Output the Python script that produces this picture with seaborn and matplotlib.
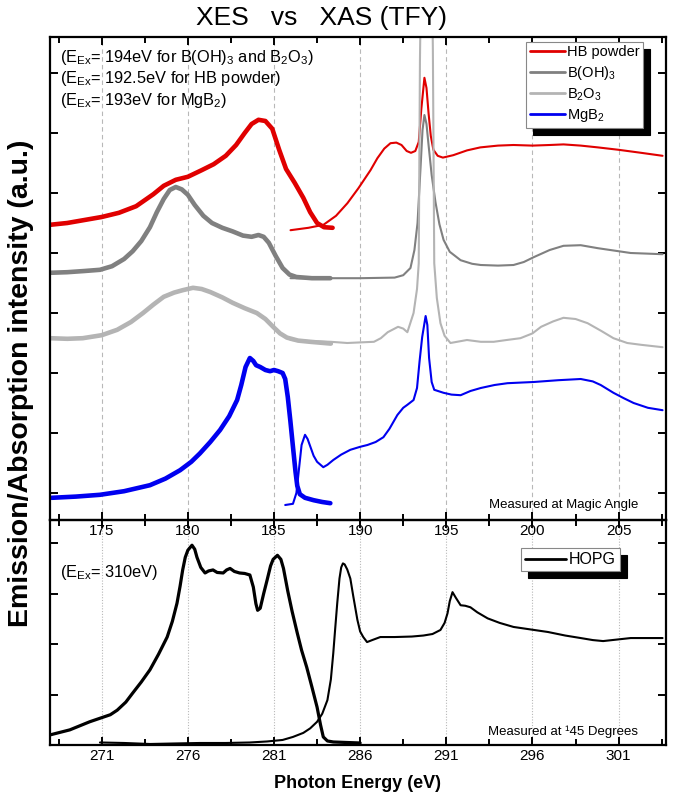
import matplotlib
matplotlib.use("Agg")
import matplotlib.pyplot as plt
import seaborn as sns
import pandas as pd
from matplotlib.lines import Line2D
from matplotlib.ticker import MultipleLocator

# ---------------- B K-edge, upper panel (offset intensities, a.u.) ----------------
hb_xes_e = [172.0, 173.0, 174.0, 175.0, 176.0, 177.0, 178.0, 178.6, 179.3, 180.0,
            180.8, 181.5, 182.2, 182.8, 183.3, 183.7, 184.1, 184.5, 184.9, 185.3,
            185.7, 186.2, 186.7, 187.1, 187.5, 187.9, 188.4]
hb_xes_i = [4.47, 4.50, 4.55, 4.60, 4.67, 4.78, 4.98, 5.12, 5.22, 5.27,
            5.38, 5.48, 5.62, 5.80, 6.00, 6.15, 6.22, 6.20, 6.07, 5.72,
            5.40, 5.17, 4.92, 4.68, 4.50, 4.43, 4.42]
hb_xas_e = [185.96, 187.0, 187.87, 188.6, 189.26, 189.9, 190.6, 191.0, 191.4, 191.76,
            192.1, 192.4, 192.7, 192.95, 193.2, 193.4, 193.55, 193.73, 193.85, 193.97,
            194.1, 194.25, 194.5, 194.8, 195.4, 196.2, 196.97, 198.0, 198.9, 200.0,
            201.0, 201.8, 202.8, 203.8, 205.0, 206.3, 207.55]
hb_xas_i = [4.38, 4.42, 4.47, 4.62, 4.83, 5.08, 5.38, 5.58, 5.74, 5.83,
            5.84, 5.80, 5.70, 5.67, 5.70, 5.85, 6.40, 6.92, 6.75, 6.33,
            5.95, 5.72, 5.62, 5.59, 5.63, 5.71, 5.76, 5.79, 5.80, 5.79,
            5.80, 5.81, 5.79, 5.76, 5.72, 5.67, 5.62]

boh_xes_e = [172.0, 173.0, 174.0, 174.9, 175.6, 176.3, 176.8, 177.3, 177.8, 178.2,
             178.6, 178.95, 179.3, 179.65, 180.0, 180.4, 180.9, 181.4, 182.0, 182.6,
             183.2, 183.7, 184.1, 184.4, 184.7, 185.1, 185.5, 185.9, 186.3, 187.2, 188.27]
boh_xes_i = [3.67, 3.68, 3.70, 3.72, 3.78, 3.90, 4.03, 4.20, 4.43, 4.68,
             4.90, 5.05, 5.10, 5.06, 4.97, 4.80, 4.62, 4.50, 4.42, 4.36,
             4.29, 4.27, 4.30, 4.27, 4.17, 3.95, 3.75, 3.64, 3.60, 3.58, 3.58]
boh_xas_e = [185.96, 188.3, 190.0, 192.0, 192.5, 192.92, 193.15, 193.33, 193.5, 193.62,
             193.73, 193.85, 193.97, 194.15, 194.37, 194.6, 194.84, 195.2, 195.83, 196.5,
             197.0, 198.0, 198.9, 199.5, 200.07, 201.0, 201.8, 202.8, 203.8, 205.7, 207.55]
boh_xas_i = [3.58, 3.58, 3.58, 3.59, 3.63, 3.75, 4.05, 4.50, 5.40, 6.05,
             6.30, 6.15, 5.80, 5.30, 4.85, 4.48, 4.22, 4.02, 3.88, 3.82,
             3.80, 3.79, 3.80, 3.85, 3.93, 4.05, 4.12, 4.13, 4.08, 4.00, 3.98]

b2o3_xes_e = [172.0, 173.0, 173.9, 175.0, 175.9, 176.7, 177.4, 178.0, 178.6, 179.2,
              179.7, 180.3, 180.8, 181.3, 182.0, 182.6, 183.3, 184.0, 184.5, 184.95,
              185.35, 185.75, 186.4, 187.1, 188.3]
b2o3_xes_i = [2.58, 2.57, 2.58, 2.63, 2.72, 2.85, 3.00, 3.14, 3.27, 3.34,
              3.38, 3.42, 3.40, 3.35, 3.26, 3.17, 3.08, 3.00, 2.90, 2.77,
              2.66, 2.59, 2.54, 2.52, 2.49]
b2o3_xas_e = [185.96, 187.2, 188.3, 189.25, 190.0, 190.8, 191.2, 191.6, 192.2, 192.5,
              192.74, 193.1, 193.3, 193.4, 193.47, 193.55, 193.8, 194.15, 194.22, 194.3,
              194.45, 194.66, 194.9, 195.24, 196.2, 197.0, 197.75, 198.5, 199.3, 200.0,
              200.5, 201.2, 201.8, 202.5, 203.2, 204.0, 204.7, 205.5, 206.3, 207.55]
b2o3_xas_i = [2.55, 2.53, 2.52, 2.50, 2.51, 2.52, 2.58, 2.68, 2.77, 2.74,
              2.68, 3.00, 3.40, 3.83, 7.2, 9.0, 10.5, 9.0, 7.4, 3.83,
              3.25, 2.83, 2.62, 2.50, 2.55, 2.52, 2.52, 2.55, 2.58, 2.66,
              2.77, 2.86, 2.92, 2.90, 2.83, 2.70, 2.58, 2.50, 2.47, 2.43]

mgb2_xes_e = [172.1, 173.5, 174.9, 176.3, 177.8, 178.7, 179.55, 180.2, 180.7, 181.3,
              181.87, 182.4, 182.86, 183.1, 183.35, 183.6, 183.8, 183.96, 184.2, 184.5,
              184.77, 185.0, 185.24, 185.5, 185.65, 185.8, 185.95, 186.1, 186.25, 186.35,
              186.5, 186.8, 187.3, 187.8, 188.27]
mgb2_xes_i = [-0.08, -0.06, -0.03, 0.03, 0.13, 0.24, 0.38, 0.52, 0.66, 0.85,
              1.05, 1.28, 1.55, 1.80, 2.10, 2.25, 2.20, 2.13, 2.10, 2.05,
              2.03, 2.05, 2.03, 2.00, 1.90, 1.60, 1.20, 0.77, 0.35, 0.12,
              -0.02, -0.08, -0.12, -0.15, -0.17]
mgb2_xas_e = [185.65, 186.1, 186.3, 186.45, 186.6, 186.8, 186.95, 187.1, 187.3, 187.5,
              187.86, 188.1, 188.44, 188.9, 189.43, 190.0, 190.42, 190.9, 191.35, 191.7,
              192.16, 192.5, 192.74, 193.1, 193.3, 193.45, 193.6, 193.8, 193.9, 194.0,
              194.15, 194.3, 194.84, 195.3, 195.83, 196.4, 197.0, 197.8, 198.55, 199.3,
              200.07, 201.5, 202.8, 203.5, 203.96, 204.7, 205.3, 205.87, 206.7, 207.55]
mgb2_xas_i = [-0.20, -0.18, 0.00, 0.40, 0.80, 0.97, 0.90, 0.78, 0.62, 0.52,
              0.43, 0.47, 0.55, 0.64, 0.72, 0.77, 0.80, 0.85, 0.93, 1.07,
              1.30, 1.42, 1.47, 1.55, 1.75, 2.20, 2.60, 2.95, 2.80, 2.25,
              1.85, 1.72, 1.67, 1.64, 1.63, 1.70, 1.75, 1.80, 1.83, 1.84,
              1.85, 1.88, 1.90, 1.86, 1.80, 1.67, 1.58, 1.50, 1.42, 1.38]

# ---------------- C K-edge, HOPG (lower panel) ----------------
hopg_xes_e = [268.0, 269.15, 270.3, 271.07, 271.5, 271.9, 272.4, 272.8, 273.3, 273.8,
              274.3, 274.8, 275.1, 275.37, 275.55, 275.7, 275.85, 276.0, 276.24, 276.4,
              276.53, 276.75, 277.0, 277.2, 277.46, 277.7, 278.05, 278.25, 278.45, 278.7,
              279.0, 279.3, 279.6, 279.8, 279.95, 280.05, 280.2, 280.4, 280.6, 280.8,
              280.95, 281.2, 281.4, 281.55, 281.8, 282.05, 282.35, 282.6, 282.9, 283.2,
              283.5, 283.7, 283.86, 284.1, 284.44, 285.2, 286.0]
hopg_xes_i = [0.20, 0.30, 0.46, 0.55, 0.60, 0.69, 0.85, 1.03, 1.25, 1.49,
              1.80, 2.14, 2.45, 2.81, 3.15, 3.47, 3.72, 3.86, 3.96, 3.88,
              3.72, 3.52, 3.41, 3.45, 3.47, 3.42, 3.41, 3.47, 3.50, 3.44,
              3.41, 3.40, 3.37, 3.13, 2.80, 2.67, 2.71, 3.00, 3.27, 3.55,
              3.68, 3.76, 3.68, 3.50, 3.05, 2.65, 2.22, 1.88, 1.54, 1.15,
              0.75, 0.40, 0.16, 0.08, 0.06, 0.05, 0.04]
hopg_xas_e = [270.9, 272.3, 273.8, 275.2, 276.7, 278.2, 279.6, 280.6, 281.5, 282.1,
              282.7, 283.1, 283.5, 283.8, 284.1, 284.3, 284.44, 284.55, 284.67, 284.8,
              284.9, 285.0, 285.1, 285.25, 285.43, 285.6, 285.84, 286.0, 286.18, 286.4,
              286.7, 287.17, 288.0, 289.0, 289.67, 290.2, 290.66, 290.9, 291.07, 291.2,
              291.36, 291.55, 291.83, 292.1, 292.4, 292.8, 293.4, 294.1, 294.9, 295.9,
              296.9, 297.9, 298.8, 299.5, 300.1, 300.9, 301.7, 303.55]
hopg_xas_i = [0.05, 0.04, 0.02, 0.03, 0.04, 0.04, 0.05, 0.07, 0.10, 0.16,
              0.24, 0.33, 0.46, 0.62, 0.89, 1.30, 1.82, 2.30, 2.81, 3.30,
              3.52, 3.60, 3.58, 3.48, 3.30, 2.95, 2.48, 2.25, 2.14, 2.04,
              2.08, 2.14, 2.14, 2.15, 2.17, 2.20, 2.28, 2.42, 2.61, 2.85,
              3.03, 2.92, 2.77, 2.76, 2.73, 2.63, 2.51, 2.42, 2.34, 2.29,
              2.24, 2.17, 2.12, 2.08, 2.06, 2.09, 2.12, 2.12]

top_series = ["HB powder", "B(OH)$_\\mathregular{3}$",
              "B$_\\mathregular{2}$O$_\\mathregular{3}$", "MgB$_\\mathregular{2}$"]
top_colors = ["#e00000", "#808080", "#b4b4b4", "#0000f0"]

sns.set_theme(style="ticks")
plt.rcParams["font.family"] = ["Liberation Sans", "DejaVu Sans"]
plt.rcParams["mathtext.fontset"] = "custom"
plt.rcParams["mathtext.rm"] = "Liberation Sans"
plt.rcParams["mathtext.it"] = "Liberation Sans:italic"
plt.rcParams["mathtext.bf"] = "Liberation Sans:bold"
for key in ("text.color", "axes.labelcolor", "xtick.color", "ytick.color",
            "xtick.labelcolor", "ytick.labelcolor"):
    plt.rcParams[key] = "black"

fig = plt.figure(figsize=(6.74, 7.99), dpi=100)
W, H = 674.0, 799.0
ax1 = fig.add_axes([50 / W, 1 - 520 / H, 616 / W, 483 / H])
ax2 = fig.add_axes([50 / W, 1 - 745 / H, 616 / W, 225 / H])
ax1.set_zorder(3)
ax1.patch.set_alpha(0)


def curve(ax, e, i, color, lw):
    df = pd.DataFrame({"E": e, "I": i})
    sns.lineplot(data=df, x="E", y="I", color=color, lw=lw, sort=False,
                 estimator=None, ax=ax, legend=False,
                 solid_joinstyle="round", solid_capstyle="round")


xes_sets = [(hb_xes_e, hb_xes_i), (boh_xes_e, boh_xes_i),
            (b2o3_xes_e, b2o3_xes_i), (mgb2_xes_e, mgb2_xes_i)]
xas_sets = [(hb_xas_e, hb_xas_i), (boh_xas_e, boh_xas_i),
            (b2o3_xas_e, b2o3_xas_i), (mgb2_xas_e, mgb2_xas_i)]

for (e, i), c in zip(xes_sets, top_colors):
    curve(ax1, e, i, c, 3.3)
for (e, i), c in zip(xas_sets, top_colors):
    curve(ax1, e, i, c, 1.5)

curve(ax2, hopg_xes_e, hopg_xes_i, "black", 2.3)
curve(ax2, hopg_xas_e, hopg_xas_i, "black", 1.5)

# axes ranges and ticks
ax1.set_xlim(172.0, 207.75)
ax1.set_ylim(-0.45, 7.6)
ax2.set_xlim(268.0, 303.75)
ax2.set_ylim(0.0, 4.46)

for ax in (ax1, ax2):
    ax.xaxis.set_major_locator(MultipleLocator(5))
    ax.xaxis.set_minor_locator(MultipleLocator(2.5))
    ax.yaxis.set_major_locator(MultipleLocator(1))
    ax.set_xlabel("")
    ax.set_ylabel("")
    for s in ax.spines.values():
        s.set_visible(True)
        s.set_linewidth(1.6)
        s.set_color("black")
    ax.tick_params(which="both", direction="in", top=True, bottom=True,
                   left=True, right=True, width=1.4, color="black",
                   labelleft=False, labelsize=11, pad=3, labelcolor="black")
    ax.tick_params(which="major", length=6)
    ax.tick_params(which="minor", length=4)

ax2.xaxis.set_major_locator(MultipleLocator(5, offset=1))
ax2.xaxis.set_minor_locator(MultipleLocator(2.5, offset=1))
ax1.tick_params(labeltop=False, labelbottom=True)
ax2.tick_params(labeltop=False, labelbottom=True)
ax1.set_yticklabels([])
ax2.set_yticklabels([])

ax1.grid(axis="x", which="major", color="#b8b8b8", lw=0.8, ls=(0, (4, 3)))
ax2.grid(axis="x", which="major", color="#b8b8b8", lw=0.8, ls=(0, (1, 1.5)))
ax1.set_axisbelow(True)
ax2.set_axisbelow(True)

# legends with drop shadows
shadow = {"ox": 5, "oy": -5, "facecolor": "black", "edgecolor": "black", "alpha": 1}
h1 = [Line2D([], [], color=c, lw=2.0) for c in top_colors]
leg1 = ax1.legend(h1, top_series, loc="upper right", bbox_to_anchor=(0.963, 0.99),
                  borderaxespad=0, fontsize=10.5, handlelength=2.4, handletextpad=0.15,
                  labelspacing=0.3, borderpad=0.25, fancybox=False, framealpha=1,
                  edgecolor="#888888", shadow=shadow)
leg1.get_frame().set_linewidth(0.8)

h2 = [Line2D([], [], color="black", lw=2.0)]
leg2 = ax2.legend(h2, ["HOPG"], loc="upper right", bbox_to_anchor=(0.925, 0.875),
                  borderaxespad=0, fontsize=11.5, handlelength=2.6, handletextpad=0.15,
                  borderpad=0.25, fancybox=False, framealpha=1,
                  edgecolor="#888888", shadow=shadow)
leg2.get_frame().set_linewidth(0.8)

# annotations
sub = "$_\\mathregular{Ex}$"
ax1.text(0.016, 0.977, "(E" + sub + "= 194eV for B(OH)$_\\mathregular{3}$ and B$_\\mathregular{2}$O$_\\mathregular{3}$)",
         transform=ax1.transAxes, fontsize=11.8, va="top", ha="left")
ax1.text(0.016, 0.934, "(E" + sub + "= 192.5eV for HB powder)",
         transform=ax1.transAxes, fontsize=11.8, va="top", ha="left")
ax1.text(0.016, 0.889, "(E" + sub + "= 193eV for MgB$_\\mathregular{2}$)",
         transform=ax1.transAxes, fontsize=11.8, va="top", ha="left")
ax1.text(0.955, 0.018, "Measured at Magic Angle", transform=ax1.transAxes,
         fontsize=9.5, ha="right", va="bottom")
ax2.text(0.016, 0.81, "(E" + sub + "= 310eV)", transform=ax2.transAxes,
         fontsize=11.8, va="top", ha="left")
ax2.text(0.955, 0.03, "Measured at \u00b945 Degrees", transform=ax2.transAxes,
         fontsize=9.5, ha="right", va="bottom")

fig.text(322 / W, 1 - 18 / H, "XES   vs   XAS (TFY)", fontsize=19, ha="center",
         va="center")
fig.text(21 / W, 1 - 383 / H, "Emission/Absorption intensity (a.u.)", fontsize=20.5,
         fontweight="bold", rotation=90, ha="center", va="center")
fig.text(358 / W, 1 - 783 / H, "Photon Energy (eV)", fontsize=13, fontweight="bold",
         ha="center", va="center")

fig.savefig("out.png", dpi=100)
